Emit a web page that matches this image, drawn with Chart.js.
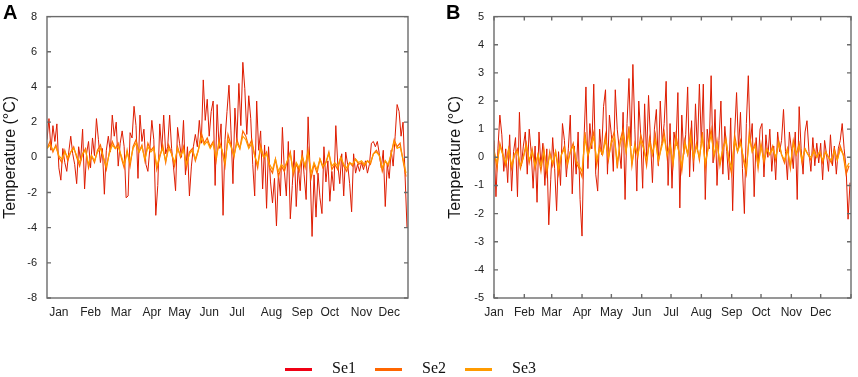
<!DOCTYPE html>
<html lang="en">
<head>
    <meta charset="UTF-8">
    <title>Temperature anomalies</title>
    <style>
        body { margin: 0; background: #fff; }
        #wrap { position: relative; width: 858px; height: 377px; }
        #chartA { position: absolute; left: 0; top: 0; }
        #chartB { position: absolute; left: 429px; top: 0; }
        .leg { position: absolute; top: 359px; height: 20px; font: 16px "Liberation Serif", serif; color: #111; }
        .leg span.ln { position: absolute; left: 0; top: 9px; width: 27px; height: 3px; }
        .leg span.tx { position: absolute; left: 47px; top: 0; white-space: nowrap; }
    </style>
</head>
<body>
<div id="wrap">
    <canvas id="chartA" width="429" height="377"></canvas>
    <canvas id="chartB" width="429" height="377"></canvas>
    <div id="legend"></div>
</div>

<script src="https://cdn.jsdelivr.net/npm/chart.js"></script>
<script>
    // sampling interval of each series (days)
    const seriesSteps = [2, 3, 3];
    const seriesNames = ['Se1', 'Se2', 'Se3'];
    const seriesColors = ['rgb(222,28,0)', 'rgb(255,102,0)', 'rgb(255,155,0)'];
    const legendColors = ['rgb(240,0,20)', 'rgb(255,102,0)', 'rgb(255,155,0)'];

    const months = ['Jan', 'Feb', 'Mar', 'Apr', 'May', 'Jun', 'Jul', 'Aug', 'Sep', 'Oct', 'Nov', 'Dec'];
    // where the month labels sit (day of year)
    const monthTicksA = [12, 44, 75, 106, 134, 164, 192, 227, 258, 286, 318, 346];
    const monthTicksB = [0, 31, 59, 90, 120, 151, 181, 212, 243, 273, 304, 334, 365];

    // Panel A
    const se1A = [
        1.0, 2.2, 0.4, 1.8, 0.9, 1.9, -0.6, -1.3, 0.5, -0.3, -0.8, 0.3, 1.2, 0.2, -0.4, -1.5,
        0.6, -0.2, 1.6, -1.8, 0.2, 0.9, -0.6, 1.1, 0.1, 2.2, 1.0, -0.3, 0.5, -2.1,
        0.4, 1.2, 0.3, 2.4, 1.2, 2.0, -0.5, 0.8, 1.5, 0.6, -2.3, -2.2, 1.4, 1.1, 2.9,
        1.8, -1.2, 2.4, 0.9, 1.6, -0.4, -0.8, 0.5, 2.1, 1.0, -3.3, -1.6, 1.9, 0.4, 2.4,
        0.2, 0.6, 2.4, 0.5, -0.6, -1.9, 1.7, 0.8, 0.0, 2.1, -1.0, 0.6, -2.2, -0.5, 0.6,
        1.3, 0.6, 2.1, 0.8, 4.4, 2.1, 3.3, 1.2, 2.6, 3.2, -1.6, 3.0, 0.5, 1.9, -3.3, 1.0,
        2.6, 4.1, 1.5, -1.5, 2.8, 0.9, 4.2, 1.8, 5.4, 3.9, 1.3, 3.5, 2.2, -0.4, -2.2,
        3.2, 0.4, 1.5, -1.8, 0.7, -2.9, 0.6, -1.4, -2.6, -1.2, -3.9, -0.9, -2.2, 1.7, -0.8, -2.2,
        0.9, -3.5, -1.6, 0.4, -2.8, -0.5, -1.9, 0.4, -1.0, -2.4, 2.3, -0.7, -4.5, -1.0, -3.4,
        -0.9, -2.3, -3.2, 0.6, -1.4, -0.2, -2.5, -0.8, -1.9, 1.8, -0.4, -1.5, 0.2, -2.2, 0.3,
        -0.4, -1.5, -3.1, 0.2, -0.9, -0.4, -0.8, -0.3, -0.7, -0.2, -0.9, -0.4, 0.8, 0.9, 0.6,
        0.9, 0.2, -0.6, 0.4, -2.8, -0.4, -1.2, 0.4, -0.5, 1.2, 3.0, 2.6, 1.2, 2.0, -1.0, -4.0
    ];
    const se2A = [
        0.5, 0.9, 0.3, 0.7, 0.0, -0.3, 0.4, -0.2, 0.3, 0.6, 0.0,
        -0.5, 0.2, 0.5, -0.6, 0.1, -0.3, 0.4, 0.7, 0.0, -0.7,
        0.3, 0.9, 0.5, 0.8, 0.0, -0.6, 0.4, -0.5, 0.6, 1.0,
        0.3, 0.7, -0.2, 0.8, 0.4, 0.6, -0.7, 0.0, 0.7, -0.3,
        0.7, 0.2, -0.5, 0.6, 0.0, 0.6, -0.6, 0.3, 0.5, -0.2,
        0.4, 1.4, 0.8, 1.1, 0.6, 0.9, -0.2, 1.0, 0.4, -0.5,
        1.3, 0.7, 0.0, 1.0, 0.5, 1.5, 1.2, 0.6, 1.0, 0.1,
        -0.6, 0.7, 0.0, 0.3, -0.6, -0.9, -0.1, -1.1, -0.5, -0.8,
        -0.2, 0.3, -1.0, -0.4, -0.8, 0.1, -0.6, 0.4, -1.2, -0.4,
        -0.9, -0.1, -0.6, -0.3, 0.3, -0.7, -0.4, -0.7, 0.0, -0.5,
        -0.8, -0.3, -0.5, -0.1, -0.4, -0.3, -0.5, -0.2, -0.4, 0.2,
        0.4, 0.1, -0.8, -0.2, -0.5, 0.2, 1.0, 0.6, 0.8, -0.2, -1.1
    ];
    const se3A = [
        0.5, 0.7, 0.4, 0.6, 0.1, -0.1, 0.3, 0.0, 0.3, 0.5, 0.1,
        -0.3, 0.2, 0.4, -0.4, 0.1, -0.2, 0.3, 0.5, 0.0, -0.5,
        0.2, 0.7, 0.5, 0.6, 0.1, -0.4, 0.3, -0.3, 0.5, 0.8,
        0.3, 0.6, -0.1, 0.6, 0.3, 0.5, -0.5, 0.1, 0.5, -0.2,
        0.5, 0.2, -0.3, 0.5, 0.1, 0.4, -0.4, 0.2, 0.4, -0.1,
        0.4, 1.1, 0.7, 0.9, 0.5, 0.8, 0.0, 0.8, 0.4, -0.3,
        1.0, 0.6, 0.1, 0.8, 0.5, 1.2, 1.0, 0.5, 0.8, 0.1,
        -0.4, 0.5, 0.0, 0.2, -0.4, -0.7, -0.1, -0.8, -0.4, -0.6,
        -0.2, 0.2, -0.8, -0.3, -0.6, 0.0, -0.5, 0.3, -0.9, -0.3,
        -0.7, -0.1, -0.5, -0.3, 0.2, -0.5, -0.3, -0.5, 0.0, -0.4,
        -0.6, -0.3, -0.4, -0.1, -0.3, -0.2, -0.4, -0.2, -0.3, 0.2,
        0.3, 0.1, -0.6, -0.2, -0.4, 0.2, 0.9, 0.5, 0.6, -0.1, -0.9
    ];

    // Panel B
    const se1B = [
        0.6, -1.4, 0.3, 1.5, 0.8, -0.5, 0.3, -0.9, 0.8, -1.2, 0.2, 0.7, -1.4, 1.6, -0.3, 0.4,
        0.9, -0.6, 1.0, 0.2, -1.1, 0.4, -1.6, 0.9, -0.3, 0.5, -1.0, 0.3, -2.4, -0.8,
        0.7, -0.4, -1.9, 0.2, -1.0, 1.2, 0.6, -0.7, 0.3, 1.5, -1.3, 0.4, -0.6, 0.9, -1.5,
        -2.8, 0.6, 2.5, -0.4, 1.2, 0.3, 2.6, -0.6, -1.2, 1.0, 0.1, 1.8, 2.4, -0.6, 1.5,
        0.8, -0.5, 2.4, 1.0, 0.3, -0.4, 1.6, -1.5, 1.2, 2.8, 0.4, 3.3, 1.0, -1.2, 2.0,
        0.8, -1.1, 1.9, 0.0, 2.2, 0.6, -0.9, 1.0, 1.7, -0.3, 2.0, 0.5, 1.2, 2.7, -1.0, 1.2,
        -1.1, 0.9, 0.4, 2.3, -1.8, 1.5, 0.1, 0.8, 2.5, -0.7, 1.3, -0.5, 1.9, 0.2, 2.6,
        0.5, 2.6, -1.5, 1.0, 0.3, 2.9, -0.2, 1.7, -1.0, 0.6, 2.0, -0.6, 1.1, 0.2, -0.8, 1.4,
        -1.9, 0.8, 2.3, 0.3, 1.6, -0.4, -2.0, 1.2, 2.9, 0.5, 1.2, -1.4, 0.7, -0.3, 1.0,
        1.2, -0.7, 0.8, 0.0, 1.0, -0.5, 0.4, -0.8, 0.9, 0.2, 0.6, 1.7, 0.2, -0.8, 0.9,
        0.3, -0.4, 0.9, -1.5, 1.8, 0.3, -0.6, 0.9, 1.3, 0.2, -0.5, 0.7, -0.3, 0.5, -0.2,
        0.5, -0.8, 0.6, 0.1, -0.5, 0.8, -0.3, 0.4, -0.6, 0.3, 0.6, 1.2, 0.3, -0.4, -2.2, -0.9
    ];
    const se2B = [
        0.3, -0.4, 0.5, 0.1, -0.3, 0.3, -0.4, 0.1, 0.3, -0.4, 0.0,
        0.5, -0.2, 0.3, -0.4, 0.1, -0.5, 0.3, -0.6, 0.2, -0.3,
        0.2, -0.6, 0.1, 0.4, -0.3, 0.2, 0.5, -0.2, -0.4, -0.7,
        0.9, 0.0, 0.5, 0.9, -0.3, 0.4, 0.1, 0.8, -0.1, 0.6,
        0.9, -0.4, 0.6, 1.0, 0.2, 1.1, -0.3, 0.5, 0.0, 0.8,
        0.4, -0.3, 0.7, 0.1, 0.8, -0.2, 0.4, 0.9, 0.0, 0.5,
        -0.3, 0.8, 0.2, -0.5, 0.6, 0.1, 0.9, -0.1, 0.5, -0.1,
        0.9, -0.4, 0.4, 1.0, 0.0, 0.6, -0.3, 0.3, 0.7, -0.1,
        -0.6, 0.8, 0.2, 0.6, -0.1, -0.6, 0.9, 0.2, 0.5, -0.4,
        0.5, -0.2, 0.3, 0.1, 0.4, -0.1, 0.6, 0.1, -0.2, 0.3,
        -0.4, 0.6, 0.1, 0.5, -0.2, 0.3, 0.1, -0.1, 0.3, 0.0,
        0.2, -0.2, 0.2, 0.0, -0.2, 0.3, -0.1, 0.4, 0.1, -0.6, -0.3
    ];
    const se3B = [
        0.2, -0.2, 0.4, 0.1, -0.2, 0.3, -0.3, 0.1, 0.2, -0.3, 0.0,
        0.4, -0.1, 0.2, -0.3, 0.1, -0.3, 0.2, -0.4, 0.1, -0.2,
        0.2, -0.4, 0.1, 0.3, -0.2, 0.2, 0.4, -0.1, -0.3, -0.5,
        0.7, 0.1, 0.4, 0.7, -0.1, 0.3, 0.1, 0.6, 0.0, 0.5,
        0.7, -0.2, 0.5, 0.8, 0.2, 0.9, -0.2, 0.4, 0.1, 0.6,
        0.3, -0.1, 0.5, 0.1, 0.6, -0.1, 0.3, 0.7, 0.1, 0.4,
        -0.2, 0.6, 0.2, -0.3, 0.5, 0.1, 0.7, 0.0, 0.4, 0.0,
        0.7, -0.2, 0.3, 0.8, 0.1, 0.5, -0.2, 0.3, 0.6, 0.0,
        -0.4, 0.6, 0.2, 0.5, 0.0, -0.4, 0.7, 0.2, 0.4, -0.3,
        0.4, -0.1, 0.3, 0.1, 0.3, 0.0, 0.5, 0.1, -0.1, 0.3,
        -0.3, 0.5, 0.1, 0.4, -0.1, 0.3, 0.1, 0.0, 0.2, 0.0,
        0.2, -0.1, 0.2, 0.0, -0.1, 0.2, -0.1, 0.3, 0.1, -0.4, -0.2
    ];

    const AXIS = '#6b6b6b';
    const TEXT = '#222';

    // box round the plot, inward tick marks and the panel letter
    const framePlugin = {
        id: 'frame',
        afterDraw(chart, args, opts) {
            const ctx = chart.ctx;
            const a = chart.chartArea;
            const x = chart.scales.x, y = chart.scales.y;
            ctx.save();
            ctx.strokeStyle = AXIS;
            ctx.lineWidth = 1.4;
            ctx.strokeRect(a.left, a.top, a.right - a.left, a.bottom - a.top);
            ctx.beginPath();
            y.ticks.forEach(t => {
                const py = y.getPixelForValue(t.value);
                ctx.moveTo(a.left, py); ctx.lineTo(a.left + 4, py);
                ctx.moveTo(a.right, py); ctx.lineTo(a.right - 4, py);
            });
            if (opts.xTicks) {
                x.ticks.forEach(t => {
                    const px = x.getPixelForValue(t.value);
                    ctx.moveTo(px, a.top); ctx.lineTo(px, a.top + 4);
                    ctx.moveTo(px, a.bottom); ctx.lineTo(px, a.bottom - 4);
                });
            }
            ctx.stroke();
            ctx.fillStyle = '#000';
            ctx.font = 'bold 20px "Liberation Sans", Arial, sans-serif';
            ctx.textBaseline = 'top';
            ctx.fillText(opts.label, opts.labelX, 3);
            ctx.restore();
        }
    };

    function makeDatasets(lists) {
        return lists.map((vals, k) => ({
            label: seriesNames[k],
            data: vals.map((v, i) => ({ x: i * seriesSteps[k], y: v })),
            borderColor: seriesColors[k],
            borderWidth: k === 0 ? 1 : 1.2,
            pointRadius: 0,
            tension: 0,
            fill: false,
            order: 2 - k
        }));
    }

    function makeChart(id, lists, cfg) {
        const ctx = document.getElementById(id).getContext('2d');
        return new Chart(ctx, {
            type: 'line',
            data: { datasets: makeDatasets(lists) },
            options: {
                responsive: false,
                animation: false,
                devicePixelRatio: 1,
                layout: { padding: { left: 0, top: 13, right: cfg.padRight, bottom: 49 } },
                plugins: {
                    legend: { display: false },
                    tooltip: { enabled: false },
                    frame: { label: cfg.label, labelX: cfg.labelX, xTicks: cfg.xTicks }
                },
                scales: {
                    x: {
                        type: 'linear',
                        min: 0,
                        max: 365,
                        afterBuildTicks: s => { s.ticks = cfg.monthTicks.map(v => ({ value: v })); },
                        afterFit: s => { s.height = 30; },
                        grid: { display: false, drawTicks: false },
                        border: { display: false },
                        ticks: {
                            autoSkip: false,
                            maxRotation: 0,
                            padding: 7,
                            color: TEXT,
                            font: { family: '"Liberation Sans", Arial, sans-serif', size: 12 },
                            callback: (v, i) => months[i] || ''
                        }
                    },
                    y: {
                        min: cfg.yMin,
                        max: cfg.yMax,
                        afterFit: s => { s.width = cfg.yWidth; },
                        grid: { display: false, drawTicks: false },
                        border: { display: false },
                        ticks: {
                            stepSize: cfg.yStep,
                            padding: 10,
                            color: TEXT,
                            font: { family: '"Liberation Sans", Arial, sans-serif', size: 11 }
                        },
                        title: {
                            display: true,
                            text: 'Temperature (°C)',
                            color: '#111',
                            padding: { top: cfg.titlePad, bottom: 0 },
                            font: { family: '"Liberation Sans", Arial, sans-serif', size: 16 }
                        }
                    }
                }
            },
            plugins: [framePlugin]
        });
    }

    makeChart('chartA', [se1A, se2A, se3A], {
        label: 'A', labelX: 3, xTicks: false, monthTicks: monthTicksA,
        yMin: -8, yMax: 8, yStep: 2, yWidth: 47, padRight: 21, titlePad: 1
    });
    makeChart('chartB', [se1B, se2B, se3B], {
        label: 'B', labelX: 17, xTicks: true, monthTicks: monthTicksB,
        yMin: -5, yMax: 5, yStep: 1, yWidth: 65, padRight: 3, titlePad: 17
    });

    // shared legend under both panels
    const legend = document.getElementById('legend');
    seriesNames.forEach((name, k) => {
        const item = document.createElement('div');
        item.className = 'leg';
        item.style.left = (285 + k * 90) + 'px';
        item.innerHTML = '<span class="ln" style="background:' + legendColors[k] + '"></span><span class="tx">' + name + '</span>';
        legend.appendChild(item);
    });
</script>
</body>
</html>
